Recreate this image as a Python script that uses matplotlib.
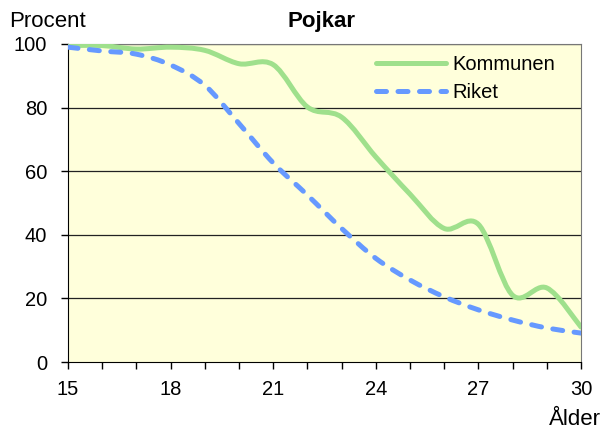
import numpy as np
import matplotlib
matplotlib.use('Agg')
import matplotlib.pyplot as plt
from matplotlib.path import Path
from matplotlib.patches import PathPatch
from matplotlib.lines import Line2D

plt.rcParams['font.family'] = ['Liberation Sans', 'DejaVu Sans']

# Data
ages = [15, 16, 17, 18, 19, 20, 21, 22, 23, 24, 25, 26, 27, 28, 29, 30]
kommunen = [99.5, 99.5, 98.4, 99, 98, 93.8, 93.5, 80.2, 77, 64.5, 52.8, 42, 43.3, 21, 23.3, 11]
riket = [99, 97.8, 96.8, 93.4, 87, 75, 62.6, 52.5, 42, 32.6, 25.8, 20.5, 16.4, 13.2, 10.7, 9.1]
xticks = [15, 18, 21, 24, 27, 30]
yticks = [0, 20, 40, 60, 80, 100]

green = '#9FE08C'
blue = '#6699FF'
fs = 14.5
lw = 3.6
dash = (0, (2.0, 2.3))


def smooth_path(x, y):
    # Excel-like smoothed line: cubic bezier through the points
    x = np.asarray(x, float)
    y = np.asarray(y, float)
    verts = [(x[0], y[0])]
    codes = [Path.MOVETO]
    n = len(x)
    for i in range(n - 1):
        i0 = max(i - 1, 0)
        i3 = min(i + 2, n - 1)
        c1 = (x[i] + (x[i + 1] - x[i0]) / 6, y[i] + (y[i + 1] - y[i0]) / 6)
        c2 = (x[i + 1] - (x[i3] - x[i]) / 6, y[i + 1] - (y[i3] - y[i]) / 6)
        verts += [c1, c2, (x[i + 1], y[i + 1])]
        codes += [Path.CURVE4] * 3
    return Path(verts, codes)


fig = plt.figure(figsize=(6.05, 4.3), dpi=100)
ax = fig.add_axes([0.1124, 0.1581, 0.8479, 0.7396])
ax.set_facecolor('#FFFFDB')

ax.set_xlim(15, 30)
ax.set_ylim(0, 100)
ax.set_xticks(xticks)
ax.set_xticks(ages, minor=True)
ax.set_yticks(yticks)
ax.tick_params(axis='both', which='both', direction='out', length=5, width=1,
               labelsize=fs, colors='black')
ax.tick_params(axis='x', pad=8)
ax.tick_params(axis='y', pad=10)

for v in yticks[1:]:
    ax.axhline(v, color='#222222', lw=0.9, zorder=1)

for s in ['top', 'right']:
    ax.spines[s].set_color('#777777')
for s in ['left', 'bottom']:
    ax.spines[s].set_color('black')

p1 = PathPatch(smooth_path(ages, kommunen), fill=False, edgecolor=green,
               lw=lw, capstyle='round', joinstyle='round', zorder=3)
ax.add_patch(p1)
p2 = PathPatch(smooth_path(ages, riket), fill=False, edgecolor=blue,
               lw=lw, linestyle=dash, capstyle='round',
               joinstyle='round', zorder=4)
ax.add_patch(p2)

h1 = Line2D([], [], color=green, lw=lw, solid_capstyle='round')
h2 = Line2D([], [], color=blue, lw=lw, linestyle=dash,
            dash_capstyle='round')
ax.legend([h1, h2], ['Kommunen', 'Riket'], loc='upper right', frameon=False,
          fontsize=fs, handlelength=3.5, handletextpad=0.3,
          borderaxespad=0, labelspacing=0.45, bbox_to_anchor=(0.965, 0.99))

fig.text(0.531, 0.951, 'Pojkar', ha='center', va='center', fontsize=16,
         fontweight='bold')
fig.text(0.079, 0.949, 'Procent', ha='center', va='center', fontsize=16)
fig.text(0.950, 0.024, 'Ålder', ha='center', va='center', fontsize=16)

fig.savefig('out.png', dpi=100)
